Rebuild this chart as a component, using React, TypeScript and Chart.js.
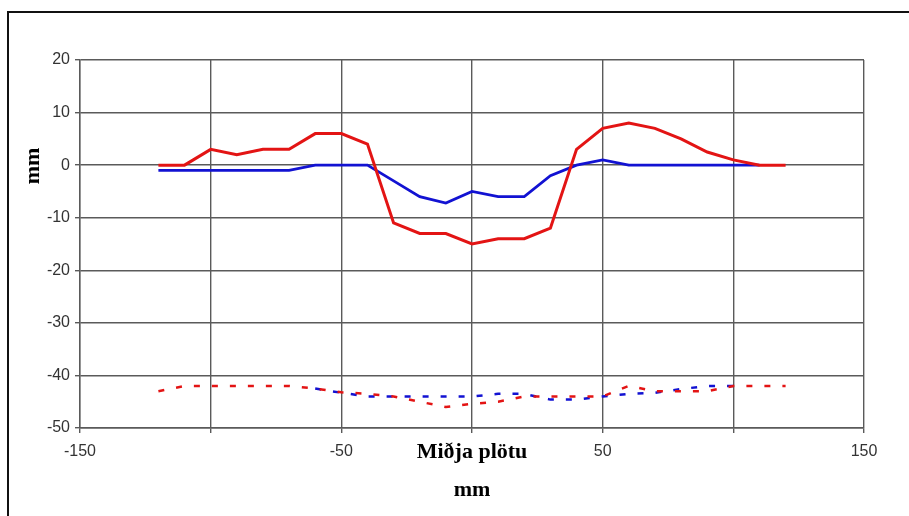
import React, { useEffect, useRef } from "react";
import { Chart, registerables } from "chart.js";

Chart.register(...registerables);

const xPositions = [-120, -110, -100, -90, -80, -70, -60, -50, -40, -30, -20, -10, 0, 10, 20, 30, 40, 50, 60, 70, 80, 90, 100, 110, 120];
const redSolid = [0, 0, 3, 2, 3, 3, 6, 6, 4, -11, -13, -13, -15, -14, -14, -12, 3, 7, 8, 7, 5, 2.5, 1, 0, 0];
const blueSolid = [-1, -1, -1, -1, -1, -1, 0, 0, 0, -3, -6, -7.2, -5, -6, -6, -2, 0, 1, 0, 0, 0, 0, 0, 0, null];
const redDashed = [-43, -42, -42, -42, -42, -42, -42.5, -43.2, -43.5, -44, -45, -46, -45.4, -45, -44, -44, -44, -44, -42, -43, -43, -43, -42, -42, -42];
const blueDashed = [null, null, null, null, null, null, -42.5, -43.3, -44, -44, -44, -44, -44, -43.5, -43.5, -44.6, -44.6, -44, -43.5, -43.3, -42.6, -42, -42, null, null];

const xTickLabels = [-150, -50, 50, 150];
const xTitle = "Miðja plötu";
const xUnit = "mm";
const yTitle = "mm";

const toPoints = (ys: (number | null)[]) => xPositions.map((x, i) => ({ x, y: ys[i] }));

const RED = "#e31414";
const BLUE = "#1212d2";
const GRID = "#5a5a5a";

const titlePlugin = {
  id: "customTitles",
  afterDraw(chart: any) {
    const { ctx, chartArea } = chart;
    const cx = (chartArea.left + chartArea.right) / 2;
    ctx.save();
    ctx.fillStyle = "#000";
    ctx.font = 'bold 22px "Liberation Serif"';
    ctx.textAlign = "center";
    ctx.textBaseline = "middle";
    ctx.fillText(xTitle, cx, 452);
    ctx.fillText(xUnit, cx, 490);
    ctx.translate(33, 166);
    ctx.rotate(-Math.PI / 2);
    ctx.fillText(yTitle, 0, 0);
    ctx.restore();
  },
};

export default function App() {
  const ref = useRef<HTMLCanvasElement | null>(null);
  useEffect(() => {
    if (!ref.current) return;
    const chart = new Chart(ref.current, {
      type: "line",
      data: {
        datasets: [
          { data: toPoints(redSolid), borderColor: RED, borderWidth: 3, pointRadius: 0, fill: false },
          { data: toPoints(blueSolid), borderColor: BLUE, borderWidth: 2.8, pointRadius: 0, fill: false },
          { data: toPoints(redDashed), borderColor: RED, borderWidth: 2.5, borderDash: [6, 12], pointRadius: 0, fill: false },
          { data: toPoints(blueDashed), borderColor: BLUE, borderWidth: 2.5, borderDash: [6, 12], pointRadius: 0, fill: false },
        ],
      },
      options: {
        animation: false,
        responsive: false,
        devicePixelRatio: 1,
        layout: { padding: { left: 0, top: 60, right: 45, bottom: 0 } },
        plugins: { legend: { display: false }, tooltip: { enabled: false }, title: { display: false } },
        scales: {
          x: {
            type: "linear",
            min: -150,
            max: 150,
            afterFit: (s: any) => { s.height = 88; },
            ticks: {
              stepSize: 50,
              autoSkip: false,
              maxRotation: 0,
              padding: 9,
              color: "#333",
              font: { family: '"Liberation Sans"', size: 16 },
              callback: (v: any) => (xTickLabels.includes(Number(v)) ? String(v) : ""),
            },
            grid: { color: GRID, lineWidth: 1.4, tickLength: 5 },
            border: { color: GRID, width: 1.4 },
          },
          y: {
            min: -50,
            max: 20,
            afterFit: (s: any) => { s.width = 80; },
            ticks: {
              stepSize: 10,
              padding: 5,
              color: "#333",
              font: { family: '"Liberation Sans"', size: 16 },
            },
            grid: { color: GRID, lineWidth: 1.4, tickLength: 5 },
            border: { color: GRID, width: 1.4 },
          },
        },
      },
      plugins: [titlePlugin],
    });
    return () => chart.destroy();
  }, []);

  return (
    <div style={{ position: "fixed", left: 0, top: 0, width: 909, height: 516, overflow: "hidden", background: "#fff" }}>
      <canvas ref={ref} width={909} height={516} style={{ position: "absolute", left: 0, top: 0, width: 909, height: 516 }} />
      <div style={{ position: "absolute", left: 7, top: 11, width: 1200, height: 1200, borderTop: "2.5px solid #111", borderLeft: "2.5px solid #111", pointerEvents: "none" }} />
    </div>
  );
}
